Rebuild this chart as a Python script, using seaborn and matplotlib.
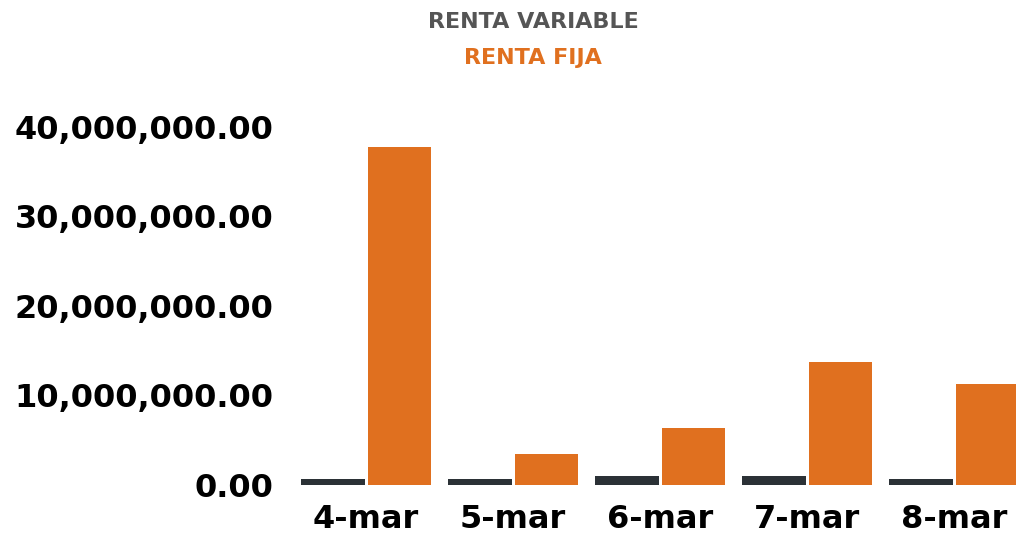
import matplotlib
matplotlib.use("Agg")
import matplotlib.pyplot as plt
import seaborn as sns
import pandas as pd
from matplotlib.ticker import FuncFormatter

# values (in units)
dates = ["4-mar", "5-mar", "6-mar", "7-mar", "8-mar"]
renta_variable = [0.65e6, 0.65e6, 1.05e6, 1.05e6, 0.65e6]
renta_fija = [37.7e6, 3.5e6, 6.4e6, 13.7e6, 11.3e6]
series_names = ["RENTA VARIABLE", "RENTA FIJA"]
y_ticks = [0, 10e6, 20e6, 30e6, 40e6]

dark = "#2b3136"
orange = "#e0701f"

df = pd.DataFrame({
    "fecha": dates * 2,
    "serie": [series_names[0]] * len(dates) + [series_names[1]] * len(dates),
    "valor": renta_variable + renta_fija,
})

sns.set_style("white")
plt.rcParams["font.family"] = ["DejaVu Sans"]

fig = plt.figure(figsize=(10.16, 5.37), dpi=100)
ax = fig.add_axes([0.288, 0.097, 0.7234, 0.6667])

sns.barplot(data=df, x="fecha", y="valor", hue="serie", order=dates,
            hue_order=series_names, palette=[dark, orange], width=0.9,
            saturation=1, linewidth=0, ax=ax, legend=False)

# small gap between the two bars of each day
for p in ax.patches:
    p.set_width(p.get_width() - 0.02)
    p.set_x(p.get_x() + 0.01)

ax.set_ylim(0, 40e6)
ax.set_xlim(-0.5, len(dates) - 0.5)
ax.set_yticks(y_ticks)
ax.yaxis.set_major_formatter(FuncFormatter(lambda v, p: f"{v:,.2f}"))
ax.set_xlabel("")
ax.set_ylabel("")
ax.tick_params(axis="y", length=0, pad=14, labelsize=23)
ax.tick_params(axis="x", length=0, pad=14, labelsize=23)
for lbl in ax.get_yticklabels() + ax.get_xticklabels():
    lbl.set_fontweight("bold")
    lbl.set_color("black")
sns.despine(ax=ax, left=True, bottom=True)
ax.grid(False)

# legend drawn as stacked coloured text
fig.text(533 / 1016, 1 - 22 / 537, series_names[0], color="#555555",
         fontsize=16, fontweight="bold", ha="center", va="center")
fig.text(533 / 1016, 1 - 58 / 537, series_names[1], color=orange,
         fontsize=16, fontweight="bold", ha="center", va="center")

fig.savefig("out.png", dpi=100)
